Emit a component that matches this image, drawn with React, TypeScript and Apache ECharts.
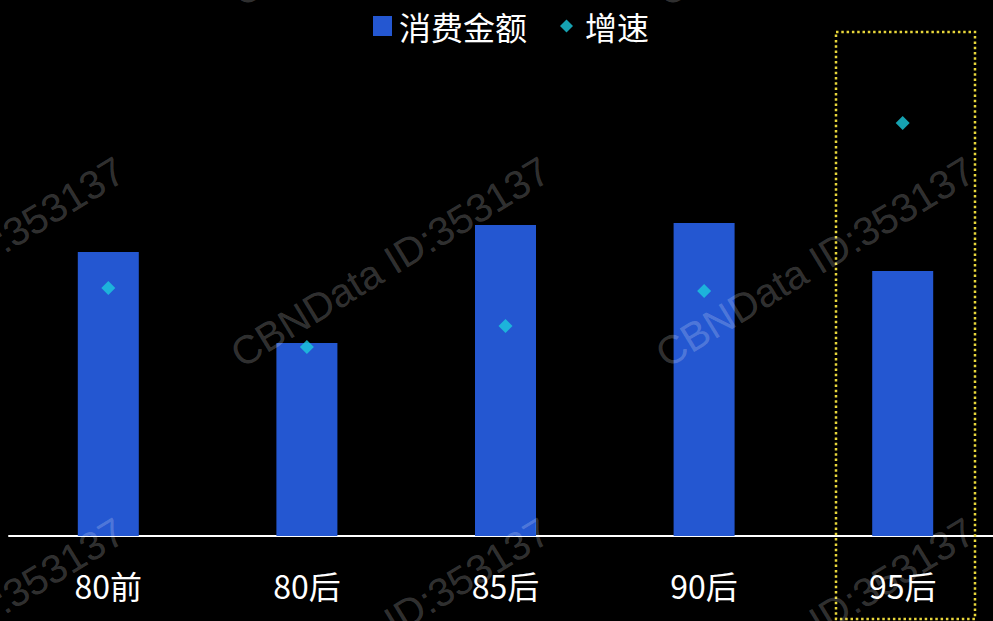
import React, { useEffect, useRef } from "react";
import * as echarts from "echarts";

const categories = ["80前", "80后", "85后", "90后", "95后"];
const amountValues = [284, 193, 311, 313, 265];
const growthValues = [248, 189, 210, 245, 413];
const amountName = "消费金额";
const growthName = "增速";
const watermarkText = "CBNData ID:353137";
const watermarkCols = [-35, 390, 815];
const watermarkRows = [-99, 262, 623];

const FONT = '"Noto Sans CJK SC", "Noto Sans", sans-serif';

export default function App() {
  const ref = useRef<HTMLDivElement>(null);
  useEffect(() => {
    document.body.style.margin = "0";
    document.body.style.background = "#000";
    const chart = echarts.init(ref.current!, undefined, { renderer: "svg" });
    const marks: any[] = [];
    watermarkRows.forEach((y) =>
      watermarkCols.forEach((x) =>
        marks.push({
          type: "text",
          x,
          y,
          rotation: 0.548,
          z: 100,
          silent: true,
          style: {
            text: watermarkText,
            fill: "rgba(255,255,255,0.21)",
            font: '40px "Liberation Sans", Arial, sans-serif',
            textAlign: "center",
            textVerticalAlign: "middle",
            align: "center",
            verticalAlign: "middle",
          },
        })
      )
    );
    marks.push({
      type: "rect",
      z: 90,
      silent: true,
      shape: { x: 836, y: 32, width: 139, height: 587 },
      style: {
        fill: "none",
        stroke: "#e8d63a",
        lineWidth: 2.5,
        lineDash: [2.5, 2.8],
      },
    });
    chart.setOption({
      animation: false,
      backgroundColor: "#000",
      legend: [
        {
          data: [{ name: amountName, icon: "rect" }],
          left: 368,
          top: 5,
          itemWidth: 19,
          itemHeight: 20,
          textStyle: { color: "#fff", fontSize: 32, fontFamily: FONT, padding: [0, 0, 0, 2] },
        },
        {
          data: [{ name: growthName, icon: "diamond" }],
          left: 555,
          top: 5,
          itemWidth: 13,
          itemHeight: 13,
          textStyle: { color: "#fff", fontSize: 32, fontFamily: FONT, padding: [0, 0, 0, 7] },
        },
      ],
      grid: {
        left: 9,
        width: 993,
        top: 36,
        bottom: 85,
        containLabel: false,
        outerBoundsMode: "none",
      },
      xAxis: {
        type: "category",
        data: categories,
        axisLine: { show: true, lineStyle: { color: "#fff", width: 2 } },
        axisTick: { show: false },
        axisLabel: { color: "#fff", fontSize: 32, fontFamily: FONT, margin: 33 },
        splitLine: { show: false },
      },
      yAxis: [
        { type: "value", min: 0, max: 500, show: false, splitLine: { show: false } },
        { type: "value", min: 0, max: 500, show: false, splitLine: { show: false } },
      ],
      series: [
        {
          name: amountName,
          type: "bar",
          data: amountValues,
          barWidth: 61,
          itemStyle: { color: "#2457d1" },
          yAxisIndex: 0,
        },
        {
          name: growthName,
          type: "scatter",
          data: growthValues,
          symbol: "diamond",
          symbolSize: 14,
          itemStyle: { color: "#1ccbdd" },
          yAxisIndex: 1,
          z: 5,
        },
      ],
      graphic: marks,
    });
    return () => chart.dispose();
  }, []);
  return <div ref={ref} style={{ width: 993, height: 621 }} />;
}
